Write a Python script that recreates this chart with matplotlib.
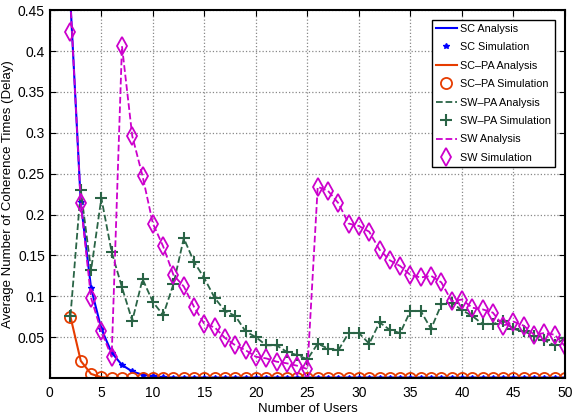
import numpy as np
import matplotlib
matplotlib.use("Agg")
from matplotlib import pyplot as plt

plt.rcParams['font.family'] = ['Liberation Sans', 'DejaVu Sans']

users = np.arange(2, 51)

# SC: analysis and simulation coincide
sc = [0.46, 0.215, 0.110, 0.060, 0.031, 0.016, 0.008, 0.004, 0.002, 0.001] + [0.0005] * 39

# SC-PA
sc_pa = [0.075, 0.021, 0.005, 0.001] + [0.0] * 45

# SW-PA
sw_pa = [0.076, 0.230, 0.132, 0.220, 0.154, 0.111, 0.070, 0.121, 0.093, 0.077,
         0.115, 0.171, 0.142, 0.122, 0.098, 0.082, 0.076, 0.057, 0.050, 0.040,
         0.040, 0.032, 0.028, 0.023, 0.042, 0.036, 0.034, 0.055, 0.055, 0.042,
         0.068, 0.059, 0.055, 0.082, 0.082, 0.060, 0.090, 0.092, 0.083, 0.076,
         0.066, 0.066, 0.070, 0.060, 0.057, 0.052, 0.046, 0.040, 0.049]

# SW simulation
sw = [0.423, 0.214, 0.098, 0.057, 0.026, 0.406, 0.296, 0.247, 0.189, 0.161,
      0.126, 0.112, 0.087, 0.066, 0.062, 0.049, 0.040, 0.034, 0.026, 0.024,
      0.020, 0.018, 0.015, 0.011, 0.234, 0.229, 0.214, 0.189, 0.186, 0.179,
      0.157, 0.144, 0.137, 0.126, 0.123, 0.125, 0.117, 0.094, 0.096, 0.086,
      0.084, 0.080, 0.064, 0.069, 0.064, 0.053, 0.055, 0.053, 0.039]
sw_ana = [0.46] + sw[1:]

blue = '#0000ff'
red = '#e63c00'
green = '#2a6446'
magenta = '#cc00cc'

fig = plt.figure(figsize=(5.73, 4.17), dpi=100)
ax = fig.add_axes([0.087, 0.0935, 0.899, 0.882])

ax.plot(users, sc, '-', color=blue, lw=1.5, label='SC Analysis')
ax.plot(users, sc, '*', color=blue, ms=4, ls='none', label='SC Simulation')
ax.plot(users, sc_pa, '-', color=red, lw=1.5, label='SC\u2013PA Analysis')
ax.plot(users, sc_pa, 'o', color=red, mfc='none', mew=1.3, ms=8, ls='none',
        label='SC\u2013PA Simulation')
ax.plot(users, sw_pa, '--', color=green, lw=1.3, label='SW\u2013PA Analysis')
ax.plot(users, sw_pa, '+', color=green, mew=1.5, ms=9, ls='none',
        label='SW\u2013PA Simulation')
ax.plot(users, sw_ana, '--', color=magenta, lw=1.3, label='SW Analysis')
ax.plot(users, sw, 'd', color=magenta, mfc='none', mew=1.3, ms=9, ls='none',
        label='SW Simulation')

ax.set_xlim(0, 50)
ax.set_ylim(0, 0.45)
ax.set_xticks(np.arange(0, 51, 5))
ax.set_yticks([0.05, 0.1, 0.15, 0.2, 0.25, 0.3, 0.35, 0.4, 0.45])
ax.set_yticklabels(['0.05', '0.1', '0.15', '0.2', '0.25', '0.3', '0.35', '0.4', '0.45'])
ax.grid(True, ls=':', color='#888888', lw=0.9)
ax.tick_params(direction='in', top=True, right=True, labelsize=10, length=4)
ax.tick_params(axis='x', pad=6)
for s in ax.spines.values():
    s.set_linewidth(1.5)

ax.set_xlabel('Number of Users', fontsize=9.5, labelpad=2)
ax.set_ylabel('Average Number of Coherence Times (Delay)', fontsize=9.5, labelpad=3)

leg = ax.legend(loc='upper right', fontsize=7.8, fancybox=False, framealpha=1,
                edgecolor='black', handlelength=2.0, labelspacing=0.78,
                borderaxespad=0.9, handletextpad=0.3, borderpad=0.35)
leg.get_frame().set_linewidth(1.0)

fig.savefig('out.png', dpi=100)
